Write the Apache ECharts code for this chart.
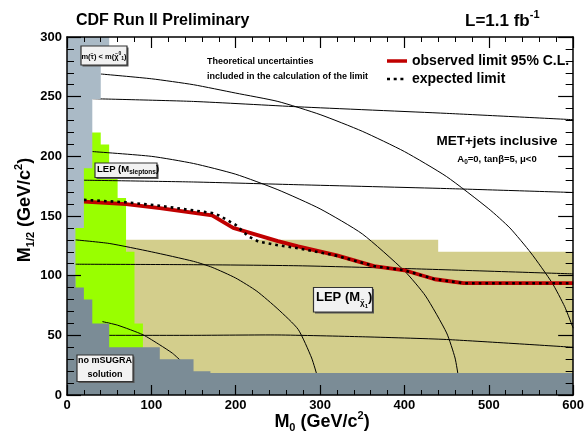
<!DOCTYPE html>
<html><head><meta charset="utf-8">
<script src="https://cdn.jsdelivr.net/npm/echarts/dist/echarts.min.js"></script>
<style>html,body{margin:0;padding:0;background:#fff}#c{width:587px;height:432px}</style>
</head><body><div id="c"></div>
<script>
// ---- axis ticks ----
const xTicks = [0, 100, 200, 300, 400, 500, 600];
const yTicks = [0, 50, 100, 150, 200, 250, 300];

// ---- excluded regions (M0, M1/2) ----
const regionLEPchargino = [[70,0],[70,130],[440,130],[440,120],[600,120],[600,0]];
const regionLEPsleptons = [[0,0],[0,220],[40,220],[40,210],[50,210],[50,190],[60,190],[60,165],[70,165],[70,120],[80,120],[80,60],[90,60],[90,0]];
const regionStauLSP = [[0,0],[0,300],[50,300],[50,278],[40,278],[40,248],[30,248],[30,190],[20,190],[20,140],[10,140],[10,0]];
const regionNoSugra = [[0,0],[0,100],[10,100],[10,90],[20,90],[20,80],[30,80],[30,60],[50,60],[50,40],[110,40],[110,30],[150,30],[150,20],[170,20],[170,18.5],[600,18.5],[600,0]];

// ---- iso-mass contours ----
const squark1 = [[40,269],[100,265],[150,260],[200,253],[250,246],[300,235],[350,221],[400,204],[450,183],[500,156],[525,140],[550,119],[575,94],[590,74],[600,56]];
const squark2 = [[30,204],[100,200],[150,194],[200,185],[250,172],[300,156],[350,135],[400,104],[425,83],[450,52],[460,31],[464,15]];
const squark3 = [[10,130],[50,127],[100,120],[150,112],[172,107],[200,98],[225,87],[250,72],[274,55],[290,31],[297,15]];
const squark4 = [[42,61.5],[60,58.5],[90,50.5],[110,42],[125,35],[136,28]];
const gluino1 = [[30,248.3],[150,246],[274,241.5],[450,236],[600,230.7]];
const gluino2 = [[20,180],[150,178.5],[274,176.2],[450,173],[600,169.7]];
const gluino3 = [[10,109.6],[150,109.2],[274,108.3],[400,106],[600,101.5]];
const gluino4 = [[50,50],[150,50],[250,50.3],[350,48.8],[450,46.5],[600,40]];

// ---- limits ----
const observedLimit = [[20,162],[70,160],[110,156.6],[172,150.5],[185,145],[197,140],[250,129],[274,124.5],[320,117],[364,108],[400,104.5],[436,97],[470,93.7],[600,93.7]];
const expectedLimit = [[20,163.5],[70,161.5],[110,158.6],[172,152.5],[180,150.5],[200,142.5],[215,133],[227,128.5],[250,125.5],[274,123],[321,116.5],[364,108],[400,104.5],[436,97],[470,93.7],[600,93.7]];

const FF = '"Liberation Sans", Arial, sans-serif';

function poly(pts, color, z) {
  return {
    type: 'custom', coordinateSystem: 'cartesian2d', data: pts, silent: true, clip: true, z: z,
    encode: {x: 0, y: 1},
    renderItem: function (params, api) {
      if (params.dataIndex !== 0) return null;
      return {type: 'polygon', z2: z * 10, shape: {points: pts.map(p => api.coord(p))}, style: {fill: color}};
    }
  };
}
function path(pts, stroke, width, dash, smooth, z) {
  return {
    type: 'custom', coordinateSystem: 'cartesian2d', data: pts, silent: true, clip: true, z: z,
    encode: {x: 0, y: 1},
    renderItem: function (params, api) {
      if (params.dataIndex !== 0) return null;
      const st = {stroke: stroke, lineWidth: width, fill: null, lineJoin: 'round'};
      if (dash) { st.lineDash = dash; st.lineCap = 'butt'; }
      return {type: 'polyline', z2: z * 10, shape: {points: pts.map(p => api.coord(p)), smooth: smooth || 0}, style: st};
    }
  };
}
function contour(pts) { return path(pts, '#000', 1, null, 0.2, 2); }

function xAx(pos, len, mlen, labels) {
  return {type: 'value', position: pos, min: xTicks[0], max: xTicks[xTicks.length-1], interval: xTicks[1]-xTicks[0],
    z: 10,
    axisLine: {show: true, onZero: false, lineStyle: {color: '#000', width: 1.5}},
    axisTick: {show: true, inside: true, length: len, lineStyle: {color: '#000', width: 1.2}},
    minorTick: {show: true, splitNumber: 5, length: mlen, lineStyle: {color: '#000', width: 1}},
    splitLine: {show: false},
    axisLabel: {show: labels, color: '#000', fontWeight: 'bold', fontSize: 13, fontFamily: FF, margin: 4}
  };
}
function yAx(pos, len, mlen, labels) {
  return {type: 'value', position: pos, min: yTicks[0], max: yTicks[yTicks.length-1], interval: yTicks[1]-yTicks[0],
    z: 10,
    axisLine: {show: true, onZero: false, lineStyle: {color: '#000', width: 1.5}},
    axisTick: {show: true, inside: true, length: len, lineStyle: {color: '#000', width: 1.2}},
    minorTick: {show: true, splitNumber: 5, length: mlen, lineStyle: {color: '#000', width: 1}},
    splitLine: {show: false},
    axisLabel: {show: labels, color: '#000', fontWeight: 'bold', fontSize: 13, fontFamily: FF, margin: 5}
  };
}

function rs(size, extra) {
  return Object.assign({fontSize: size, fontWeight: 'bold', fontFamily: FF, fill: '#000', color: '#000', verticalAlign: 'top'}, extra || {});
}
function txt(x, y, text, opts) {
  opts = opts || {};
  return {
    type: 'text', x: x, y: y, z: 100, rotation: opts.rot || 0, silent: true,
    style: {
      text: text, fill: '#000',
      font: 'bold ' + (opts.size || 12) + 'px ' + FF,
      align: opts.align || 'left', textAlign: opts.align || 'left',
      verticalAlign: 'middle', textVerticalAlign: 'middle',
      rich: opts.rich || undefined
    }
  };
}
function box(x1, y1, x2, y2) {
  return [
    {type: 'rect', z: 90, silent: true, shape: {x: x1 + 1.5, y: y1 + 1.5, width: x2 - x1, height: y2 - y1}, style: {fill: '#555'}},
    {type: 'rect', z: 91, silent: true, shape: {x: x1, y: y1, width: x2 - x1, height: y2 - y1}, style: {fill: '#f2f2f2', stroke: '#333', lineWidth: 1.2}}
  ];
}

const chart = echarts.init(document.getElementById('c'));
const graphics = [].concat(
  box(81, 46, 127, 65),
  box(95, 163, 157, 177.5),
  box(77, 355, 133, 381.5),
  box(313.5, 287.5, 372.5, 312),
  [
    txt(76, 20.5, 'CDF Run II Preliminary', {size: 16}),
    txt(465, 19.5, '{a|L=1.1 fb}{s|-1}', {size: 17, rich: {a: rs(17, {padding: [3,0,0,0]}), s: rs(11)}}),
    txt(207, 62, 'Theoretical uncertainties', {size: 9}),
    txt(207, 77, 'included in the calculation of the limit', {size: 9}),
    {type: 'line', z: 100, silent: true, shape: {x1: 387, y1: 61, x2: 407, y2: 61}, style: {stroke: '#c00000', lineWidth: 3.5}},
    {type: 'line', z: 100, silent: true, shape: {x1: 387, y1: 79, x2: 405, y2: 79}, style: {stroke: '#000', lineWidth: 2.6, lineDash: [3, 3.7]}},
    txt(412, 61, 'observed limit 95% C.L.', {size: 14}),
    txt(412, 79, 'expected limit', {size: 14}),
    txt(497, 141.7, 'MET+jets inclusive', {size: 13.5, align: 'center'}),
    txt(497, 160, '{a|A}{s|0}{a|=0, tanβ=5, μ<0}', {size: 9.5, align: 'center', rich: {a: rs(9.5), s: rs(6.5, {padding: [4,0,0,0]})}}),
    txt(104, 56, '{a|m(τ̃) < m(χ̃}{u|0}{d|1}{a|)}', {size: 7.5, align: 'center', rich: {a: rs(7.5, {padding: [1.5,0,0,0]}), u: rs(5), d: rs(5, {padding: [5,0,0,0]})}}),
    txt(97, 170, '{a|LEP (M}{s|sleptons}{a|)}', {size: 9.5, rich: {a: rs(9.5), s: rs(6.5, {padding: [4.5,0,0,0]})}}),
    txt(105, 361, 'no mSUGRA', {size: 9, align: 'center'}),
    txt(105, 374.5, 'solution', {size: 9, align: 'center'}),
    txt(316, 300, '{a|LEP (M}{s|χ̃}{d|1}{a|)}', {size: 13, rich: {a: rs(13), s: rs(8, {padding: [8,0,0,0]}), d: rs(6, {padding: [12,0,0,0]})}}),
    txt(322, 421.5, '{a|M}{s|0}{a| (GeV/c}{p|2}{a|)}', {size: 18, align: 'center', rich: {a: rs(18, {padding: [3,0,0,0]}), s: rs(11, {padding: [12,0,0,0]}), p: rs(11)}}),
    txt(25, 210, '{a|M}{s|1/2}{a| (GeV/c}{p|2}{a|)}', {size: 18, align: 'center', rot: Math.PI / 2, rich: {a: rs(18, {padding: [3,0,0,0]}), s: rs(11, {padding: [12,0,0,0]}), p: rs(11)}})
  ]
);

chart.setOption({
  animation: false,
  backgroundColor: '#fff',
  grid: {left: 67, right: 9.5, top: 37, bottom: 37, containLabel: false},
  xAxis: [xAx('bottom', 10, 5, true), xAx('top', 11, 5, false)],
  yAxis: [yAx('left', 14, 7, true), yAx('right', 15, 7.5, false)],
  series: [
    poly(regionLEPchargino, '#d3ce8c', 1),
    poly(regionLEPsleptons, '#99ff00', 1),
    contour(squark1), contour(squark2), contour(squark3), contour(squark4),
    contour(gluino1), contour(gluino2), contour(gluino3), contour(gluino4),
    path(observedLimit, '#c00000', 3.8, null, 0, 2),
    path(expectedLimit, '#000', 2.6, [2.7, 4], 0, 2),
    poly(regionStauLSP, '#aabac6', 3),
    poly(regionNoSugra, '#7b8c96', 3)
  ],
  graphic: graphics
});
</script>
</body></html>
